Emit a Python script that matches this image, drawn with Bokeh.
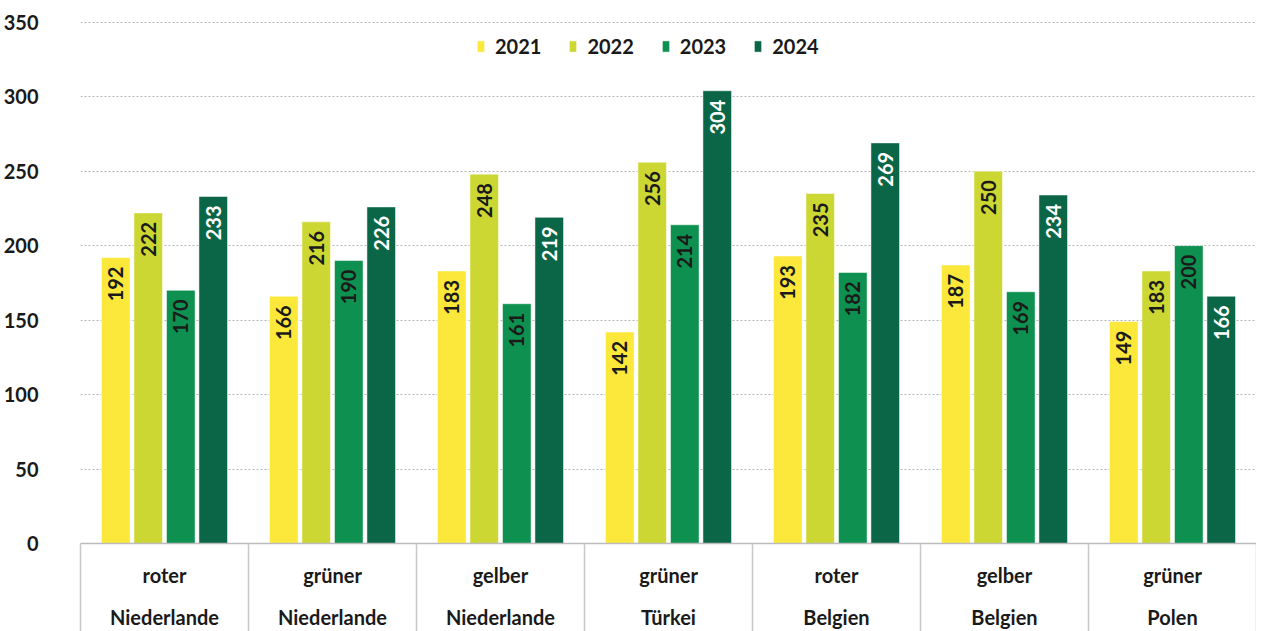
from bokeh.plotting import figure
from bokeh.models import (FactorRange, Range1d, ColumnDataSource, Legend, LegendItem,
                          LinearAxis, FixedTicker)
from bokeh.transform import dodge
from bokeh.core.properties import value
from bokeh.embed import file_html
from bokeh.resources import INLINE
import math

# ---- data ----
line1 = ["roter", "grüner", "gelber", "grüner", "roter", "gelber", "grüner"]
line2 = ["Niederlande", "Niederlande", "Niederlande", "Türkei", "Belgien", "Belgien", "Polen"]
categories = [a + " " + b for a, b in zip(line1, line2)]
years = ["2021", "2022", "2023", "2024"]
v2021 = [192, 166, 183, 142, 193, 187, 149]
v2022 = [222, 216, 248, 256, 235, 250, 183]
v2023 = [170, 190, 161, 214, 182, 169, 200]
v2024 = [233, 226, 219, 304, 269, 234, 166]
series = [v2021, v2022, v2023, v2024]
y_ticks = [0, 50, 100, 150, 200, 250, 300, 350]

colors = ["#FCE83A", "#CDD734", "#0E9150", "#0B6648"]
label_colors = ["#1A1A1A", "#1A1A1A", "#1A1A1A", "#FFFFFF"]
offsets = [-0.29, -0.097, 0.097, 0.29]
FONT = "Lato"
FS = "20px"
TXT = "#1A1A1A"

p = figure(x_range=FactorRange(*categories, range_padding=0), y_range=Range1d(0, 350.5),
           width=1256, height=631, output_backend="svg", toolbar_location=None,
           x_axis_location=None, min_border_top=21, min_border_left=72,
           min_border_right=0, min_border_bottom=87)
p.outline_line_color = None
p.background_fill_color = "white"

src = ColumnDataSource(dict(cat=categories, **{y: s for y, s in zip(years, series)},
                            **{"t" + y: [str(v) for v in s] for y, s in zip(years, series)}))

renderers = []
for y, c, lc, off in zip(years, colors, label_colors, offsets):
    r = p.vbar(x=dodge("cat", off, range=p.x_range), top=y, width=0.17, source=src,
               fill_color=c, line_color="white", line_width=0.5)
    renderers.append(r)
    p.text(x=dodge("cat", off, range=p.x_range), y=y, text="t" + y, source=src,
           angle=math.pi / 2, text_align="right", text_baseline="middle",
           y_offset=9, text_color=lc, text_font=value(FONT), text_font_style="bold",
           text_font_size=FS)

legend = Legend(items=[LegendItem(label=y, renderers=[r]) for y, r in zip(years, renderers)],
                orientation="horizontal", location=(396, 485),
                label_text_font=FONT, label_text_font_style="bold", label_text_color=TXT,
                label_text_font_size=FS, glyph_width=9, glyph_height=14,
                spacing=27, label_standoff=10, border_line_color=None,
                background_fill_alpha=0, margin=0, padding=0)
p.add_layout(legend)

# y axis
p.yaxis.ticker = FixedTicker(ticks=y_ticks)
p.yaxis.axis_line_color = None
p.yaxis.major_tick_line_color = None
p.yaxis.minor_tick_line_color = None
p.yaxis.major_label_text_font = FONT
p.yaxis.major_label_text_font_style = "bold"
p.yaxis.major_label_text_font_size = FS
p.yaxis.major_label_text_color = TXT
p.yaxis.major_label_standoff = 36

p.ygrid.ticker = FixedTicker(ticks=y_ticks[1:])
p.ygrid.grid_line_color = "#B4B4B4"
p.ygrid.grid_line_dash = "2 2"
p.ygrid.grid_line_width = 1
p.xgrid.grid_line_color = None

# x axes on the factor range's synthetic coordinates
n = len(categories)
centers = [i + 0.5 for i in range(n)]
bounds = list(range(n + 1))


def label_axis(texts, standoff, minor=None):
    ax = LinearAxis(ticker=FixedTicker(ticks=centers, minor_ticks=minor or []),
                    major_label_overrides={c: t for c, t in zip(centers, texts)})
    ax.axis_line_color = None
    ax.major_tick_line_color = None
    ax.minor_tick_line_color = None
    ax.major_tick_in = 0
    ax.major_tick_out = 0
    ax.minor_tick_in = 0
    ax.minor_tick_out = 0
    ax.major_label_standoff = standoff
    ax.major_label_text_font = FONT
    ax.major_label_text_font_style = "bold"
    ax.major_label_text_font_size = FS
    ax.major_label_text_color = TXT
    ax.major_label_text_line_height = 1.0
    return ax


ax1 = label_axis(line1, 19, bounds)
ax1.axis_line_color = "#BBBBBB"
ax1.axis_line_width = 1.5
ax1.minor_tick_line_color = "#C8C8C8"
ax1.minor_tick_line_width = 1.5
ax1.minor_tick_in = -100
ax1.minor_tick_out = 0
p.add_layout(ax1, "below")
p.add_layout(label_axis(line2, 15), "below")

open("out.html", "w").write(file_html(p, INLINE))
